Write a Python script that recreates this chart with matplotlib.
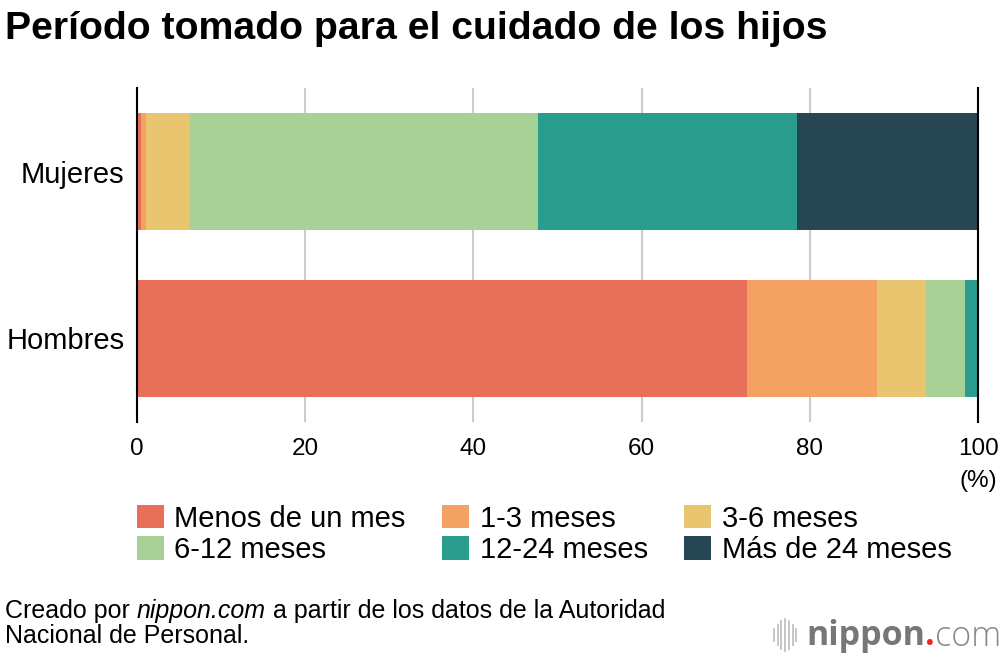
import matplotlib
matplotlib.use("Agg")
import matplotlib.pyplot as plt
from matplotlib.lines import Line2D
import numpy as np

plt.rcParams['font.family'] = ['Liberation Sans', 'DejaVu Sans']

# data (percent)
groups = ["Hombres", "Mujeres"]
categories = ["Menos de un mes", "1-3 meses", "3-6 meses",
              "6-12 meses", "12-24 meses", "Más de 24 meses"]
hombres = [72.5, 15.5, 5.8, 4.7, 1.5, 0.0]
mujeres = [0.5, 0.6, 5.2, 41.4, 30.8, 21.5]
colors = ["#E8705A", "#F3A263", "#E8C56E", "#A8D197", "#2A9D8F", "#264653"]
xticks = [0, 20, 40, 60, 80, 100]

values = np.array([hombres, mujeres])

fig = plt.figure(figsize=(10, 6.58), dpi=100)
ax = fig.add_axes([0.137, 0.359, 0.841, 0.507])

y = np.arange(len(groups))
left = np.zeros(len(groups))
handles = []
for i, cat in enumerate(categories):
    b = ax.barh(y, values[:, i], left=left, height=0.7, color=colors[i],
                label=cat, zorder=3)
    handles.append(b)
    left += values[:, i]

ax.set_xlim(0, 100)
ax.set_ylim(-0.5, 1.5)
ax.set_yticks(y)
ax.set_yticklabels(groups, fontsize=21)
ax.set_xticks(xticks)
ax.set_xticklabels([str(t) for t in xticks], fontsize=17.5)
ax.tick_params(axis='both', length=0)
ax.tick_params(axis='x', pad=12)
ax.tick_params(axis='y', pad=9)
ax.grid(axis='x', color='#cccccc', linewidth=1.5, zorder=0)
for s in ['top', 'bottom']:
    ax.spines[s].set_visible(False)
ax.spines['left'].set_linewidth(1.5)
ax.spines['right'].set_linewidth(1.5)
ax.spines['left'].set_zorder(4)
ax.spines['right'].set_zorder(4)

fig.text(0.978, 0.269, "(%)", fontsize=17.5, ha='center', va='center')

fig.text(0.005, 0.956, "Período tomado para el cuidado de los hijos",
         fontsize=28.3, fontweight='bold', ha='left', va='center')

# legend row-wise
order = [0, 3, 1, 4, 2, 5]
leg = fig.legend([handles[k] for k in order], [categories[k] for k in order],
                 ncol=3, loc='upper left', bbox_to_anchor=(0.125, 0.251),
                 frameon=False, fontsize=21, handlelength=0.93,
                 handleheight=0.87, handletextpad=0.36, columnspacing=1.25,
                 labelspacing=0.13, borderaxespad=0)

# footer
fig.canvas.draw()
r = fig.canvas.get_renderer()
parts = [("Creado por ", 'normal'), ("nippon.com", 'italic'),
         (" a partir de los datos de la Autoridad", 'normal')]
xpos = 0.005
for txt, st in parts:
    t = fig.text(xpos, 0.072, txt, fontsize=18, style=st, ha='left',
                 va='center')
    xpos = t.get_window_extent(r).x1 / 1000
fig.text(0.005, 0.033, "Nacional de Personal.", fontsize=18, ha='left',
         va='center')

# nippon.com logo
heights = [0.018, 0.030, 0.042, 0.050, 0.042, 0.030, 0.018]
for k, h in enumerate(heights):
    x0 = 0.774 + k * 0.0037
    fig.add_artist(Line2D([x0, x0], [0.035 - h / 2, 0.035 + h / 2],
                          color='#bbbbbb', linewidth=1.2))
t1 = fig.text(0.806, 0.033, "nippon", fontsize=24.5, color='#777777',
              fontweight='bold', ha='left', va='center', family='Open Sans')
bb = t1.get_window_extent(r)
t2 = fig.text(bb.x1 / 1000, 0.033, ".", fontsize=24.5, color='#e8262b',
              fontweight='bold', ha='left', va='center', family='Open Sans')
bb = t2.get_window_extent(r)
fig.text(bb.x1 / 1000, 0.033, "com", fontsize=24.5, color='#888888',
         fontweight='light', ha='left', va='center', family='Open Sans')

fig.savefig("out.png", dpi=100)
